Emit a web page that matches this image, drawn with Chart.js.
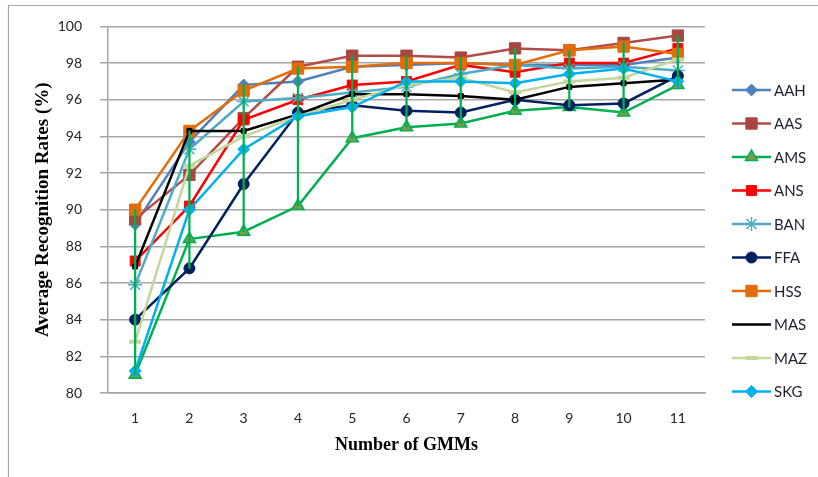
<!DOCTYPE html>
<html>
<head>
<meta charset="utf-8">
<script src="https://cdn.jsdelivr.net/npm/chart.js"></script>
<style>
  html, body { margin: 0; padding: 0; background: #ffffff; }
  #wrap { width: 818px; height: 477px; position: relative; }
</style>
</head>
<body>
<div id="wrap"><canvas id="c" width="818" height="477"></canvas></div>
<script>
// ---------------- data ----------------
const categories = ['1', '2', '3', '4', '5', '6', '7', '8', '9', '10', '11'];
const yTicks = [80, 82, 84, 86, 88, 90, 92, 94, 96, 98, 100];
const seriesNames = ['AAH', 'AAS', 'AMS', 'ANS', 'BAN', 'FFA', 'HSS', 'MAS', 'MAZ', 'SKG'];

const AAH = [89.2, 93.7, 96.8, 97.0, 97.8, 97.9, 98.0, 97.9, 97.9, 97.9, 98.3];
const AAS = [89.5, 91.9, 95.0, 97.8, 98.4, 98.4, 98.3, 98.8, 98.7, 99.1, 99.5];
const AMS = [81.0, 88.4, 88.8, 90.2, 93.9, 94.5, 94.7, 95.4, 95.6, 95.3, 96.8];
const ANS = [87.2, 90.2, 94.9, 96.0, 96.8, 97.0, 97.9, 97.5, 98.0, 98.0, 98.8];
const BAN = [85.9, 93.3, 95.9, 96.1, 96.4, 96.7, 97.4, 97.9, 97.7, 97.8, 97.6];
const FFA = [84.0, 86.8, 91.4, 95.3, 95.7, 95.4, 95.3, 96.0, 95.7, 95.8, 97.3];
const HSS = [90.0, 94.3, 96.5, 97.7, 97.8, 98.0, 98.0, 97.9, 98.7, 98.9, 98.5];
const MAS = [86.9, 94.3, 94.3, 95.2, 96.3, 96.3, 96.2, 96.0, 96.7, 96.9, 97.1];
const MAZ = [82.8, 92.4, 94.0, 95.1, 96.0, 96.8, 97.2, 96.4, 97.0, 97.2, 98.2];
const SKG = [81.2, 90.0, 93.3, 95.1, 95.6, 97.0, 97.0, 96.9, 97.4, 97.7, 97.0];

const seriesValues = [AAH, AAS, AMS, ANS, BAN, FFA, HSS, MAS, MAZ, SKG];

// ---------------- styles ----------------
const styles = {
  AAH: { line: '#4F81BD', fill: '#4F81BD', border: '#4F81BD', point: 'rectRot', r: 6, bw: 1 },
  AAS: { line: '#B24C47', fill: '#A9473F', border: '#A9473F', point: 'rect', r: 8, bw: 1 },
  AMS: { line: '#00B050', fill: '#7F9A48', border: '#00B050', point: 'triangle', r: 7, bw: 1.5 },
  ANS: { line: '#FF0000', fill: '#FF0000', border: '#FF0000', point: 'rect', r: 7, bw: 1 },
  BAN: { line: '#4BACC6', fill: '#4BACC6', border: '#4BACC6', point: 'star', r: 7, bw: 1.5 },
  FFA: { line: '#002060', fill: '#002060', border: '#002060', point: 'circle', r: 5.5, bw: 1 },
  HSS: { line: '#E46C0A', fill: '#E46C0A', border: '#E46C0A', point: 'rect', r: 8, bw: 1 },
  MAS: { line: '#000000', fill: '#000000', border: '#000000', point: 'rect', r: 3.5, bw: 1 },
  MAZ: { line: '#C3D69B', fill: '#C3D69B', border: '#C3D69B', point: 'line', r: 6, bw: 4 },
  SKG: { line: '#00B0F0', fill: '#00B0F0', border: '#00B0F0', point: 'rectRot', r: 6, bw: 1 }
};

const datasets = seriesNames.map((name, i) => {
  const s = styles[name];
  return {
    type: 'line',
    label: name,
    data: seriesValues[i],
    borderColor: s.line,
    backgroundColor: s.fill,
    borderWidth: 2.5,
    tension: 0,
    fill: false,
    pointStyle: s.point,
    pointRadius: s.r,
    pointBackgroundColor: s.fill,
    pointBorderColor: s.border,
    pointBorderWidth: s.bw,
    order: 20 - i
  };
});

// high-low lines (min to max of all series per category)
const highLow = categories.map((_, j) => {
  const col = seriesValues.map(v => v[j]);
  return [Math.min(...col), Math.max(...col)];
});
datasets.push({
  type: 'bar',
  label: 'hl',
  data: highLow,
  backgroundColor: '#00B050',
  borderWidth: 0,
  barThickness: 1.6,
  order: 0
});

// ---------------- plugins ----------------
const framePlugin = {
  id: 'frame',
  beforeDraw(chart) {
    const ctx = chart.ctx;
    ctx.save();
    ctx.strokeStyle = '#A6A6A6';
    ctx.lineWidth = 1.2;
    ctx.beginPath();
    ctx.moveTo(8.5, 477);
    ctx.lineTo(8.5, 5.5);
    ctx.lineTo(818, 5.5);
    ctx.stroke();
    ctx.restore();
  }
};

const legendPlugin = {
  id: 'customLegend',
  afterDraw(chart) {
    const ctx = chart.ctx;
    const helpers = Chart.helpers;
    const x0 = 732, x1 = 771, y0 = 90, step = 33.5;
    ctx.save();
    seriesNames.forEach((name, i) => {
      const s = styles[name];
      const y = y0 + i * step;
      ctx.strokeStyle = s.line;
      ctx.lineWidth = 2.5;
      ctx.beginPath();
      ctx.moveTo(x0, y);
      ctx.lineTo(x1, y);
      ctx.stroke();
      if (name !== 'MAS' && helpers && helpers.drawPoint) {
        ctx.fillStyle = s.fill;
        ctx.strokeStyle = s.border;
        ctx.lineWidth = s.bw;
        helpers.drawPoint(ctx, { pointStyle: s.point, radius: s.r, rotation: 0, borderWidth: s.bw }, (x0 + x1) / 2, y);
      }
      ctx.fillStyle = '#1f1f2f';
      ctx.font = '15px Lato';
      ctx.textAlign = 'left';
      ctx.textBaseline = 'middle';
      ctx.fillText(name, x1 + 3, y + 1);
    });
    ctx.restore();
  }
};

// ---------------- chart ----------------
new Chart(document.getElementById('c'), {
  data: { labels: categories, datasets },
  options: {
    responsive: false,
    animation: false,
    events: [],
    layout: { padding: { left: 0, right: 113, top: 24, bottom: 0 } },
    plugins: {
      legend: { display: false },
      tooltip: { enabled: false }
    },
    scales: {
      x: {
        type: 'category',
        offset: true,
        grid: { display: false, drawTicks: false },
        border: { display: true, color: '#A6A6A6', width: 1.5 },
        ticks: { color: '#262626', font: { family: 'Lato', size: 14 }, padding: 17, maxRotation: 0 },
        title: {
          display: true,
          text: 'Number of GMMs',
          color: '#000000',
          font: { family: 'Liberation Serif', size: 18, weight: 'bold' },
          padding: { top: 0, bottom: 21 }
        },
        afterFit(scale) { scale.height = 84; }
      },
      y: {
        type: 'linear',
        min: 80,
        max: 100,
        afterBuildTicks(scale) { scale.ticks = yTicks.map(v => ({ value: v })); },
        grid: { color: '#A6A6A6', lineWidth: 1.5, drawTicks: true, tickLength: 8 },
        border: { display: true, color: '#A6A6A6', width: 1.5 },
        ticks: { color: '#262626', font: { family: 'Lato', size: 14 }, padding: 18 },
        title: {
          display: true,
          text: 'Average Recognition Rates (%)',
          color: '#000000',
          font: { family: 'Liberation Serif', size: 19, weight: 'bold' },
          padding: { top: 32, bottom: 0 }
        },
        afterFit(scale) { scale.width = 108; }
      }
    }
  },
  plugins: [framePlugin, legendPlugin]
});
</script>
</body>
</html>
